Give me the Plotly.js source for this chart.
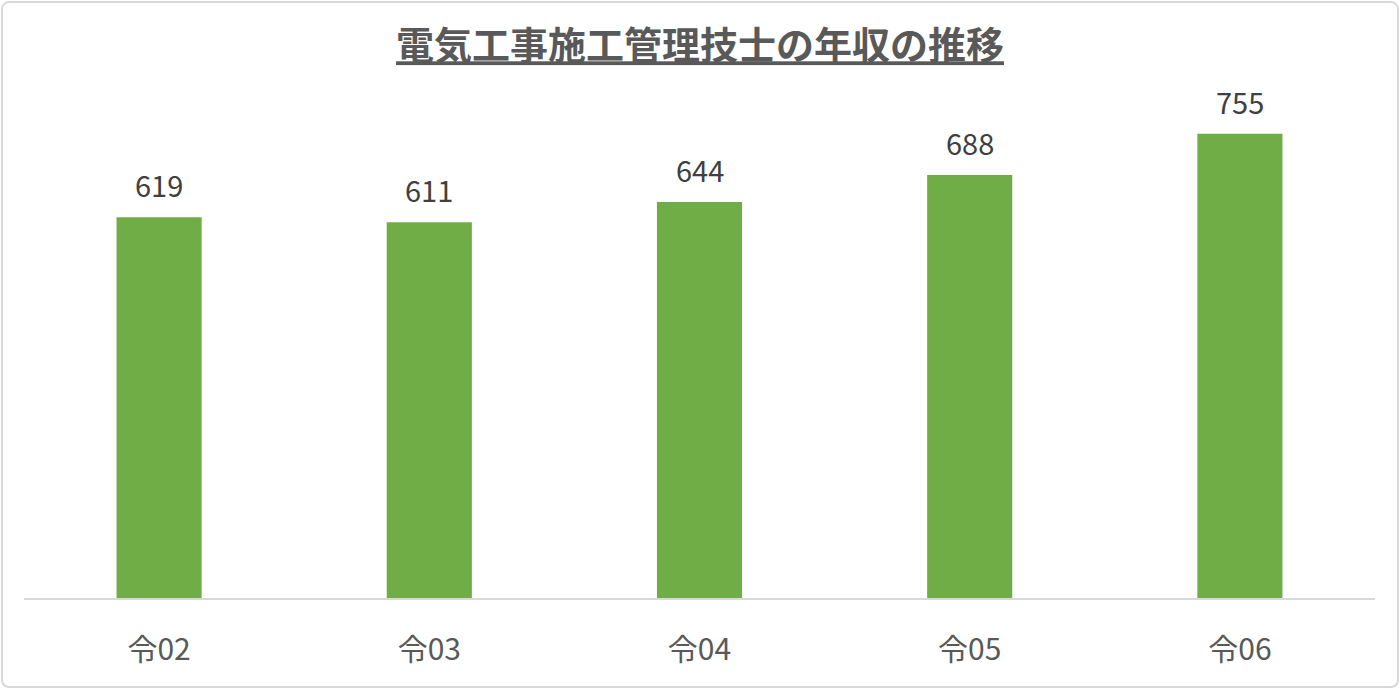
<!DOCTYPE html>
<html>
<head>
<meta charset="utf-8">
<script src="https://cdn.plot.ly/plotly-3.0.1.min.js"></script>
<style>
  html, body { margin: 0; padding: 0; background: #fff; }
  #wrap { position: relative; width: 1400px; height: 689px; }
  #chart { width: 1400px; height: 689px; }
  #frame {
    position: absolute; left: 1px; top: 1px; right: 1px; bottom: 1px;
    border: 2px solid #d9d9d9; border-radius: 8px; pointer-events: none;
  }
</style>
</head>
<body>
<div id="wrap">
  <div id="chart"></div>
  <div id="frame"></div>
</div>
<script>
  var years = ['令02', '令03', '令04', '令05', '令06'];
  var salary = [619, 611, 644, 688, 755];
  var titleText = '電気工事施工管理技士の年収の推移';

  var green = '#70ad47';
  var font = '"Noto Sans CJK JP", "Noto Sans", sans-serif';

  // value labels above each bar
  var labels = years.map(function (y, i) {
    return {
      x: y, y: salary[i], text: String(salary[i]),
      xref: 'x', yref: 'y', yanchor: 'bottom', yshift: 10,
      showarrow: false,
      font: { family: font, size: 29, color: '#404040' }
    };
  });

  Plotly.newPlot('chart', [{
    type: 'bar',
    x: years,
    y: salary,
    marker: { color: green },
    hoverinfo: 'x+y'
  }], {
    width: 1400,
    height: 689,
    margin: { l: 24, r: 25, t: 106, b: 91 },
    paper_bgcolor: '#fff',
    plot_bgcolor: '#fff',
    bargap: 0.685,
    showlegend: false,
    title: {
      text: '<b><u>' + titleText + '</u></b>',
      font: { family: font, size: 38, color: '#595959' },
      x: 0.5, xanchor: 'center',
      y: 1 - 46 / 689, yref: 'container', yanchor: 'middle'
    },
    xaxis: {
      type: 'category',
      showgrid: false,
      showline: true,
      linecolor: '#d9d9d9',
      linewidth: 2,
      ticks: '',
      ticklabelstandoff: 24,
      tickfont: { family: font, size: 30, color: '#595959' }
    },
    yaxis: {
      range: [0, 800],
      visible: false,
      showgrid: false,
      zeroline: false
    },
    annotations: labels
  }, { displayModeBar: false, staticPlot: true });
</script>
</body>
</html>
